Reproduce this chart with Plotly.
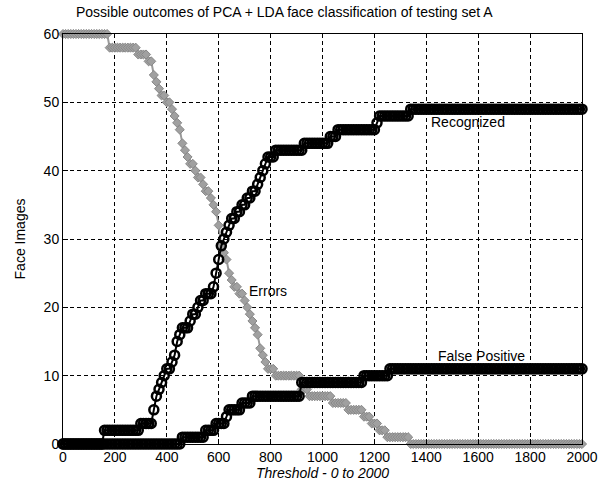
import plotly.graph_objects as go

threshold = list(range(0, 2001, 10))

# Recognized (step 10)
recognized = (
    [0]*16 +                      # 0-150
    [2]*14 +                      # 160-290
    [3]*5 +                       # 300-340
    [5, 7, 8, 9, 10, 11, 11, 12, 13, 15,        # 350-440
     16, 17, 17, 17, 18, 19, 19, 20, 21, 21,    # 450-540
     22, 22, 22, 23, 25, 27, 29, 30, 31, 32,    # 550-640
     33, 33, 34, 34, 35, 35, 36, 36, 37, 37,    # 650-740
     38, 39, 40, 41, 42, 42, 42] +              # 750-810
    [43]*11 +                     # 820-920
    [44]*10 +                     # 930-1020
    [45]*3 +                      # 1030-1050
    [46]*15 +                     # 1060-1200
    [47] +                        # 1210
    [48]*12 +                     # 1220-1330
    [49]*67                       # 1340-2000
)

errors = (
    [60]*18 +                     # 0-170
    [58]*11 +                     # 180-280
    [57, 57, 57, 57, 56, 56,      # 290-340
     54, 53, 52, 51, 51, 50, 50, 49, 48, 47,    # 350-440
     46, 44, 43, 42, 41, 41, 40, 39, 39, 38,    # 450-540
     37, 37, 36, 35, 34, 32, 29, 28, 27, 25,    # 550-640
     24, 23, 23, 22, 22, 21, 20, 19, 18, 17,    # 650-740
     16, 14, 13, 12, 11, 11, 11] +              # 750-810
    [10]*10 +                     # 820-910
    [8]*3 +                       # 920-940
    [7]*9 +                       # 950-1030
    [6]*6 +                       # 1040-1090
    [5]*6 +                       # 1100-1150
    [4]*3 +                       # 1160-1180
    [3]*3 +                       # 1190-1210
    [2]*3 +                       # 1220-1240
    [1]*9 +                       # 1250-1330
    [0]*67                        # 1340-2000
)

false_positive = (
    [0]*46 +                      # 0-450
    [1]*9 +                       # 460-540
    [2]*4 +                       # 550-580
    [3]*4 +                       # 590-620
    [4] +                         # 630
    [5]*5 +                       # 640-680
    [6]*4 +                       # 690-720
    [7]*19 +                      # 730-910
    [9]*24 +                      # 920-1150
    [10]*10 +                     # 1160-1250
    [11]*75                       # 1260-2000
)

labels = ["Recognized", "Errors", "False Positive"]
label_x = [1410, 708, 1438]
label_y = [47.1, 22.4, 12.9]

FONT = "Liberation Sans, Arial, sans-serif"
FS = 14

fig = go.Figure()

fig.add_trace(go.Scatter(
    x=threshold, y=errors, mode="lines+markers",
    line=dict(color="#9a9a9a", width=2),
    marker=dict(symbol="diamond", size=7, color="#a0a0a0",
                line=dict(color="#888888", width=1)),
    cliponaxis=False, showlegend=False))

fig.add_trace(go.Scatter(
    x=threshold, y=false_positive, mode="lines+markers",
    line=dict(color="black", width=2),
    marker=dict(symbol="circle-open", size=9, color="black",
                line=dict(color="black", width=2.5)),
    cliponaxis=False, showlegend=False))

fig.add_trace(go.Scatter(
    x=threshold, y=recognized, mode="lines+markers",
    line=dict(color="black", width=2),
    marker=dict(symbol="circle-open", size=9, color="black",
                line=dict(color="black", width=2.5)),
    cliponaxis=False, showlegend=False))

for t, xx, yy in zip(labels, label_x, label_y):
    fig.add_annotation(x=xx, y=yy, text=t, showarrow=False,
                       xanchor="left", yanchor="middle",
                       font=dict(family=FONT, size=FS, color="black"))

axis_common = dict(
    showline=True, linecolor="black", linewidth=1, mirror=True,
    ticks="inside", ticklen=5, tickcolor="black",
    showgrid=True, gridcolor="black", gridwidth=1, griddash="4px,3px",
    zeroline=False,
    tickfont=dict(family=FONT, size=FS, color="black"),
)

fig.update_xaxes(range=[0, 2000], tickvals=list(range(0, 2001, 200)),
                 title=dict(text="<i>Threshold - 0 to 2000</i>", standoff=3,
                            font=dict(family=FONT, size=FS, color="black")),
                 **axis_common)
fig.update_yaxes(range=[0, 60], tickvals=list(range(0, 61, 10)),
                 title=dict(text="Face Images", standoff=14,
                            font=dict(family=FONT, size=FS, color="black")),
                 **axis_common)

fig.update_layout(
    width=610, height=490,
    margin=dict(l=63, r=27, t=34, b=43),
    paper_bgcolor="white", plot_bgcolor="white",
    title=dict(text="Possible outcomes of PCA + LDA face classification of testing set A",
               x=0.466, xanchor="center", y=0.976, yanchor="middle",
               font=dict(family=FONT, size=FS, color="black")),
    showlegend=False,
)

fig.write_html("out.html")
